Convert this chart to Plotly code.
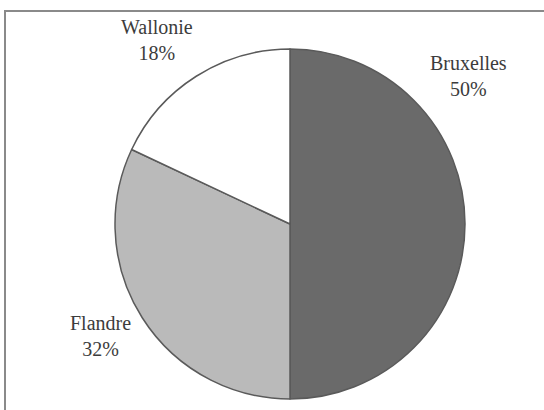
import plotly.graph_objects as go

regions = ["Bruxelles", "Flandre", "Wallonie"]
shares = [50, 32, 18]
colors = ["#6a6a6a", "#bababa", "#ffffff"]
# label block centres in pixels (x from left, y from top)
label_px = [(468, 76), (100, 336), (157, 40)]

W, H = 544, 410
cx, cy, r = 290, 224, 175

fig = go.Figure(go.Pie(
    labels=regions,
    values=shares,
    sort=False,
    direction="clockwise",
    rotation=0,
    marker=dict(colors=colors, line=dict(color="#5a5a5a", width=1.5)),
    textinfo="none",
    hoverinfo="label+percent",
    showlegend=False,
    domain=dict(x=[(cx - r) / W, (cx + r) / W],
                y=[(H - cy - r) / H, (H - cy + r) / H]),
))

for name, val, (px, py) in zip(regions, shares, label_px):
    fig.add_annotation(
        x=px / W, y=1 - py / H, xref="paper", yref="paper",
        text=f"{name}<br>{val}%", showarrow=False,
        xanchor="center", yanchor="middle", align="center",
        font=dict(family="Liberation Serif", size=20, color="#3c3c3c"),
    )

fig.add_shape(type="rect", xref="paper", yref="paper",
              x0=5 / W, x1=1.02, y0=-0.02, y1=1 - 11 / H,
              line=dict(color="#8a8a8a", width=2), layer="below")

fig.update_layout(
    width=W, height=H,
    margin=dict(l=0, r=0, t=0, b=0),
    paper_bgcolor="white", plot_bgcolor="white",
)

fig.write_html(
    "out.html",
    config={"displayModeBar": False},
    post_script="document.body.style.margin='0';document.body.style.overflow='hidden';",
)
